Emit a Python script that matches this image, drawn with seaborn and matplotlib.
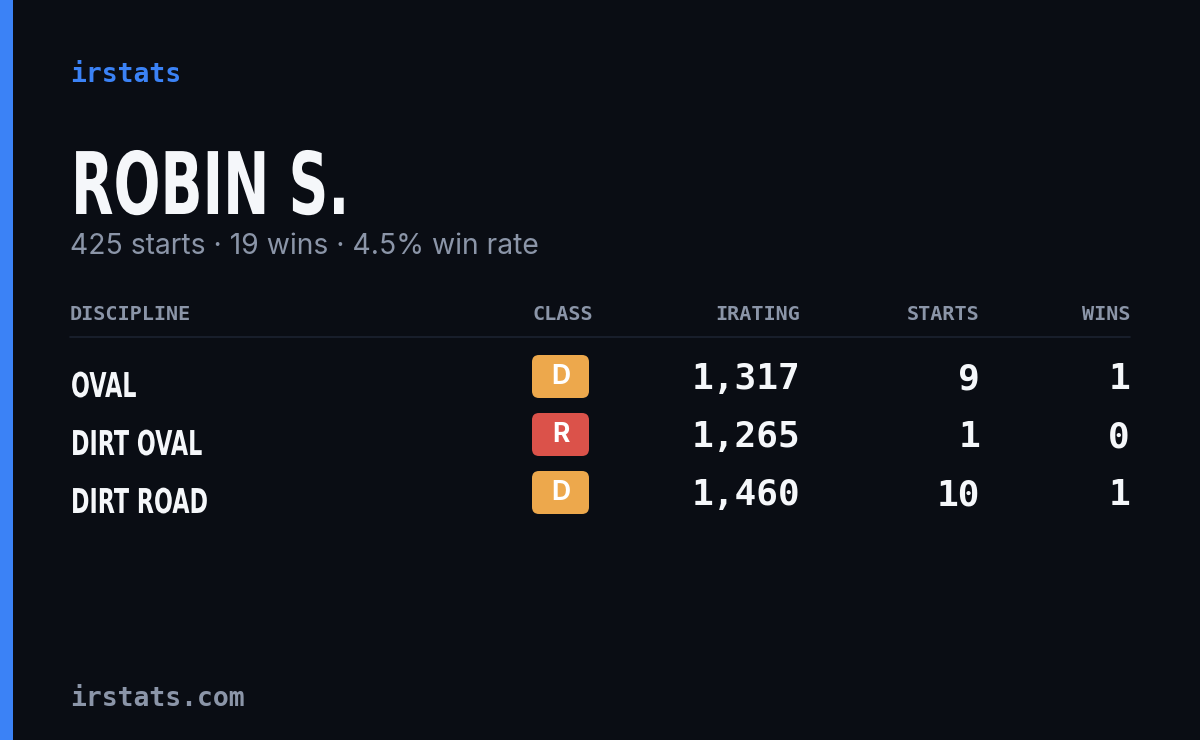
import matplotlib
matplotlib.use("Agg")
import matplotlib.pyplot as plt
from matplotlib.patches import FancyBboxPatch, Rectangle, PathPatch
from matplotlib.textpath import TextPath
from matplotlib.font_manager import FontProperties
from matplotlib.transforms import Affine2D
import seaborn as sns

# card data
driver = "ROBIN S."
total_starts = 425
total_wins = 19
win_rate = 4.5
disciplines = ["OVAL", "DIRT OVAL", "DIRT ROAD"]
classes = ["D", "R", "D"]
iratings = [1317, 1265, 1460]
starts = [9, 1, 10]
wins = [1, 0, 1]
headers = ["DISCIPLINE", "CLASS", "IRATING", "STARTS", "WINS"]

BG = "#0a0d14"
ACCENT = "#3b82f6"
MUTED = "#8b95a8"
WHITE = "#f5f7fa"
class_colors = {"D": "#eda84c", "R": "#db524a"}

sns.set_theme(style="dark")
plt.rcParams["font.family"] = ["DejaVu Sans"]

fig = plt.figure(figsize=(12, 7.4), dpi=100, facecolor=BG)
ax = fig.add_axes([0, 0, 1, 1])
ax.set_facecolor(BG)
ax.set_xlim(0, 1200)
ax.set_ylim(740, 0)
ax.axis("off")

ax.add_patch(Rectangle((0, 0), 13, 740, color=ACCENT, lw=0))

mono = "DejaVu Sans Mono"
cond_fp = FontProperties(family="DejaVu Sans", weight="bold")


def condensed(x, y_base, s, cap_h, squeeze=0.65):
    # draw text as a path squeezed horizontally, cap height in pixels
    tp = TextPath((0, 0), s, size=1, prop=cond_fp)
    k = cap_h / 0.73
    tr = Affine2D().scale(k * squeeze, -k).translate(x, y_base)
    ax.add_patch(PathPatch(tr.transform_path(tp), color=WHITE, lw=0))


ax.text(70, 75, "irstats", color=ACCENT, fontsize=19, family=mono,
        fontweight="bold", va="center")
condensed(71, 214, driver, 63, squeeze=0.64)
ax.text(70, 246, f"{total_starts} starts · {total_wins} wins · {win_rate}% win rate",
        color=MUTED, fontsize=20.4, family=["Inter", "DejaVu Sans"], va="center")

# header row
hx = [70, 593, 800, 980, 1130]
ha = ["left", "right", "right", "right", "right"]
for x, h, a in zip(hx, headers, ha):
    ax.text(x, 315, h, color=MUTED, fontsize=14.5, family=mono, fontweight="bold",
            ha=a, va="center")
ax.plot([70, 1130], [337, 337], color="#1c2230", lw=1.2)

rows_y = [378, 436, 494]
for y, d, c, ir, s, w in zip(rows_y, disciplines, classes, iratings, starts, wins):
    condensed(71, y + 19, d, 25)
    ax.add_patch(FancyBboxPatch((532, y - 23), 57, 43,
                                boxstyle="round,pad=0,rounding_size=7",
                                color=class_colors[c], lw=0))
    ax.text(560.5, y - 1, c, color="white", fontsize=19, fontweight="bold",
            family=["Inter", "DejaVu Sans"], ha="center", va="center")
    for xr, txt in [(800, f"{ir:,}"), (980, str(s)), (1130, str(w))]:
        ax.text(xr, y + 1, txt, color=WHITE, fontsize=26, family=mono,
                fontweight="bold", ha="right", va="center")

ax.text(70, 699, "irstats.com", color=MUTED, fontsize=19, family=mono,
        fontweight="bold", va="center")

fig.savefig("out.png", dpi=100, facecolor=BG)
